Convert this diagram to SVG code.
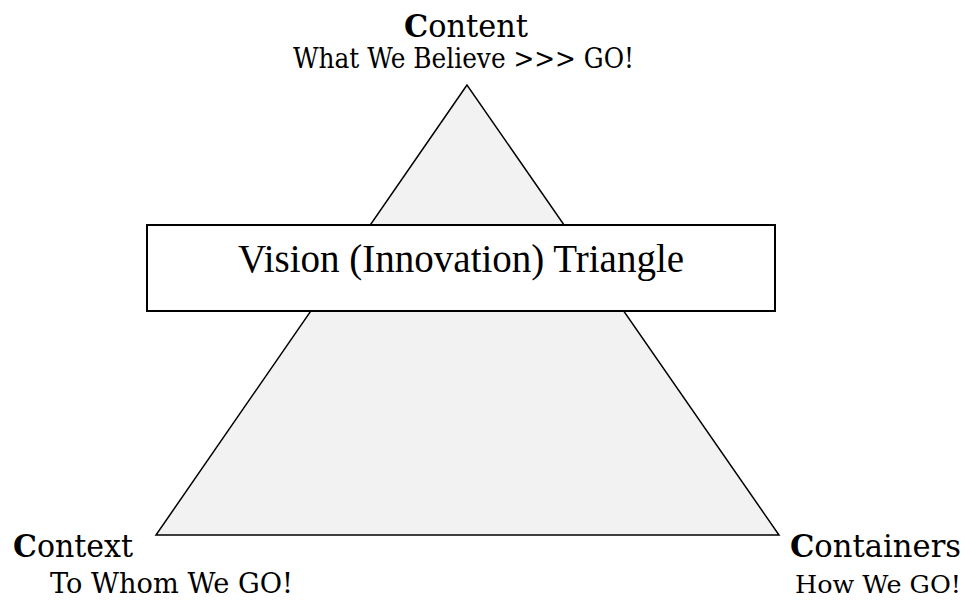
<svg xmlns="http://www.w3.org/2000/svg" width="969" height="602" viewBox="0 0 969 602">
  <style>
    .label { font-family: "DejaVu Serif", "Liberation Serif", serif; fill: #000; }
    .head { font-size: 31px; }
    .sub { font-size: 27px; }
    .sub.short { font-size: 25px; }
    .cap { font-weight: bold; }
    .title { font-family: "Liberation Serif", serif; font-size: 39px; fill: #000; }
  </style>
  <rect width="969" height="602" fill="#ffffff"/>

  <!-- the triangle itself -->
  <g id="triangle">
    <polygon points="467,85 156,535 779,535" fill="#f2f2f2" stroke="#000" stroke-width="1.5" stroke-linejoin="miter"/>
  </g>

  <!-- title banner across the triangle -->
  <g id="title-box">
    <rect x="147" y="225" width="628" height="86" fill="#ffffff" stroke="#000" stroke-width="2"/>
    <text class="title" x="461" y="272" text-anchor="middle">Vision (Innovation) Triangle</text>
  </g>

  <!-- corner labels -->
  <g id="content">
    <text class="label head" x="404" y="37" textLength="124" lengthAdjust="spacingAndGlyphs"><tspan class="cap">C</tspan>ontent</text>
    <text class="label sub" x="293" y="68" textLength="341" lengthAdjust="spacingAndGlyphs">What We Believe &gt;&gt;&gt; GO!</text>
  </g>

  <g id="context">
    <text class="label head" x="13" y="557" textLength="120" lengthAdjust="spacingAndGlyphs"><tspan class="cap">C</tspan>ontext</text>
    <text class="label sub" x="50" y="593" textLength="243" lengthAdjust="spacingAndGlyphs">To Whom We GO!</text>
  </g>

  <g id="containers">
    <text class="label head" x="790" y="557" textLength="171" lengthAdjust="spacingAndGlyphs"><tspan class="cap">C</tspan>ontainers</text>
    <text class="label sub short" x="795" y="593" textLength="166" lengthAdjust="spacingAndGlyphs">How We GO!</text>
  </g>
</svg>
